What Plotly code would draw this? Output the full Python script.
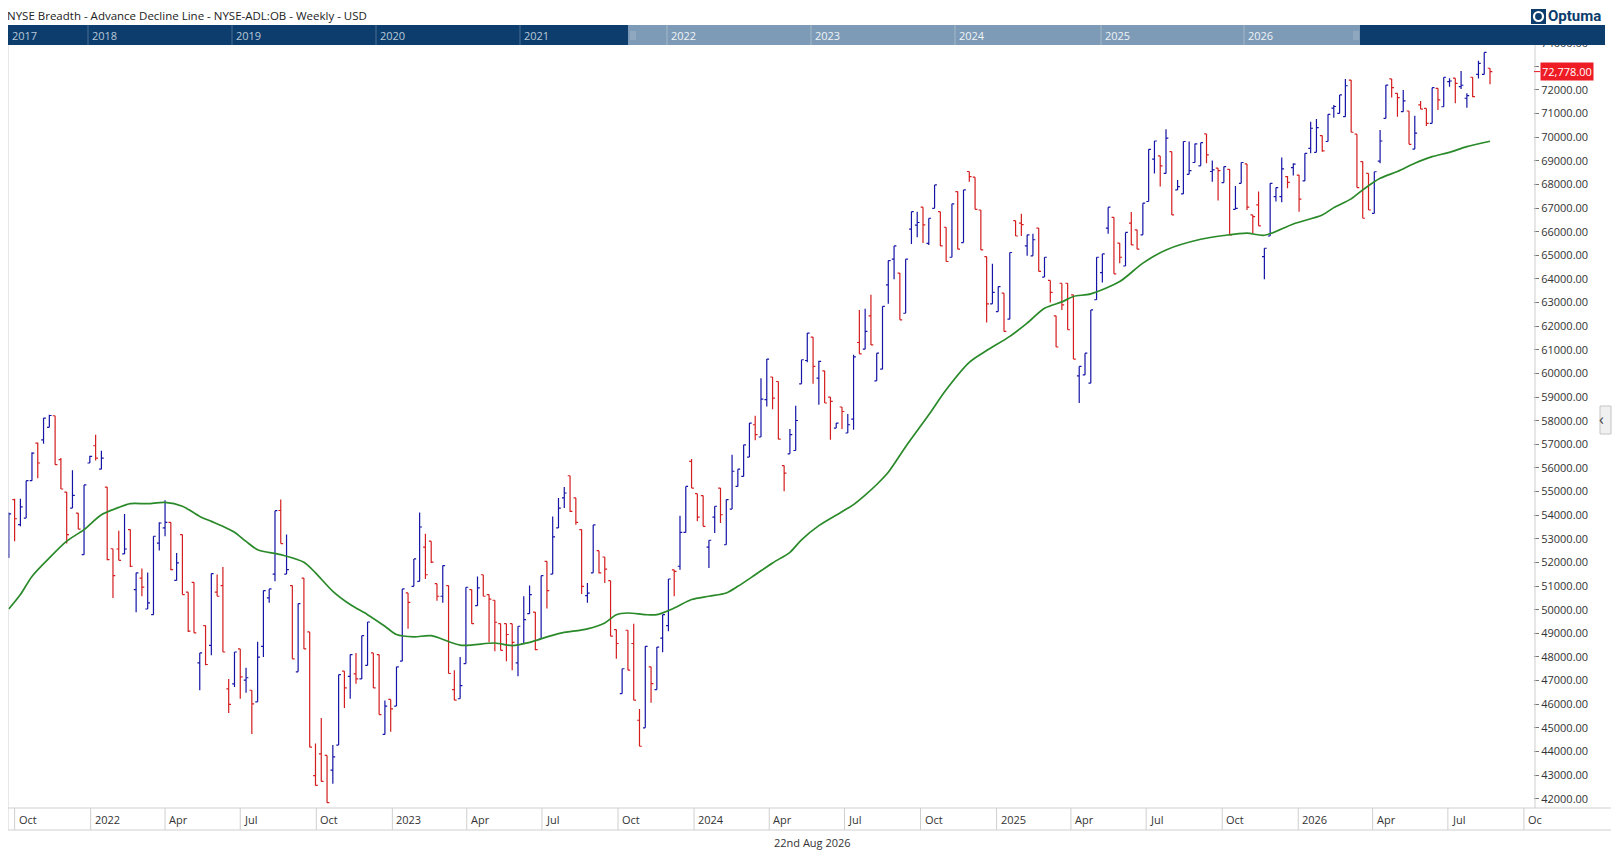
import pandas as pd
import plotly.graph_objects as go

# --- DATA (weekly OHLC, first bar = week ending 24 Sep 2021) ---
FIRST_WEEK = "2021-09-24"

OPEN = [52330, 54660, 53600, 53880, 55460, 57050, 57190, 57720, 58210, 56350,
        54980, 54300, 54090, 52330, 56210, 56940, 55950, 55190, 52580, 52570,
        52360, 53390, 50850, 51340, 50030, 49790, 52820, 53460, 53700, 51240,
        53180, 50740, 51160, 47750, 49330, 48490, 50740, 51020, 46650, 46860,
        48340, 47020, 46590, 46100, 48450, 50500, 51510, 54200, 51510, 51020,
        47370, 51340, 49060, 42980, 43900, 43830, 43210, 44270, 47400, 47180,
        47280, 47070, 47640, 48170, 48100, 44720, 46200, 45920, 47820, 50710,
        50990, 51200, 52650, 52900, 51100, 50570, 51020, 46620, 46230, 47720,
        50850, 50170, 51480, 50640, 50400, 49410, 49410, 49410, 47750, 48570,
        49830, 49900, 48760, 52050, 51510, 53460, 54730, 55670, 54730, 53390,
        50600, 51560, 52500, 52230, 51230, 49160, 46450, 49130, 48570, 45320,
        45000, 47580, 46620, 48800, 49330, 51690, 51840, 53270, 56280, 54910,
        54830, 52650, 53920, 55150, 52750, 54260, 55220, 55640, 56460, 57830,
        57310, 58890, 59850, 59660, 56100, 56600, 56740, 59560, 60550, 61540,
        59800, 60110, 59000, 57690, 58580, 57480, 58070, 61310, 61030, 62440,
        59690, 60180, 63750, 64840, 64250, 62550, 66110, 66280, 67040, 65510,
        66990, 66850, 66190, 64920, 67700, 65540, 68550, 68310, 66920, 64950,
        62950, 62620, 63400, 62300, 66470, 66360, 65400, 64980, 66150, 64080,
        63940, 62440, 63820, 63820, 63330, 59900, 59940, 59590, 63120, 64270,
        66150, 66610, 65520, 64550, 66360, 66080, 65870, 67280, 69070, 69210,
        68470, 69390, 67770, 67600, 68430, 68930, 68790, 70140, 68550, 68690,
        68080, 68640, 66950, 68050, 68870, 66710, 67140, 64950, 65820, 67490,
        67490, 68330, 68710, 68400, 68150, 69530, 69360, 70070, 69820, 71230,
        71010, 70870, 72420, 70130, 68970, 68470, 66780, 68990, 70800, 72470,
        71860, 71080, 71110, 69500, 71370, 71220, 70590, 72070, 71290, 72350,
        72500, 72140, 71650, 72540, 72660, 72660, 72920]

HIGH = [54120, 54700, 54700, 55460, 56660, 57080, 58110, 58250, 58210, 56420,
        54980, 55900, 54090, 55280, 56520, 57410, 56730, 55190, 52580, 53340,
        54050, 53390, 51560, 51740, 51580, 53110, 53700, 54630, 53700, 52400,
        53180, 50740, 51160, 48170, 49330, 51530, 51490, 51810, 47070, 48210,
        48340, 47540, 46590, 48640, 50810, 50880, 54190, 54660, 53180, 51020,
        50260, 51340, 49060, 44340, 45420, 43830, 44270, 47250, 47400, 48100,
        48170, 48900, 49480, 48170, 48100, 46160, 46200, 47580, 50880, 50710,
        52150, 54120, 53220, 52900, 51100, 51870, 51020, 47440, 48000, 50950,
        50850, 51410, 51480, 50640, 50400, 49410, 49410, 49410, 49300, 50570,
        51020, 49900, 51440, 52050, 53950, 54730, 55190, 55670, 54730, 53390,
        51130, 53590, 52500, 52230, 51230, 49160, 47500, 49130, 49410, 45800,
        48450, 47580, 48420, 49790, 51300, 51690, 53980, 55220, 56380, 54910,
        54830, 52940, 54380, 55150, 54660, 56560, 55950, 56980, 57900, 58210,
        59800, 60610, 59850, 59660, 56100, 57650, 58630, 60580, 61710, 61540,
        60540, 60110, 59000, 57900, 58580, 58280, 60790, 62690, 62740, 63330,
        60860, 62840, 64780, 65400, 64250, 64840, 66850, 66850, 67040, 66570,
        67980, 66850, 66190, 67180, 67700, 67770, 68550, 68310, 66920, 64950,
        64640, 63680, 63400, 65120, 66470, 66760, 65870, 65910, 66150, 64920,
        63940, 62440, 63820, 63820, 63330, 60300, 60860, 62690, 64920, 65060,
        67040, 66610, 65520, 65970, 66830, 66080, 67210, 69490, 69840, 69210,
        70340, 69390, 68190, 69820, 69820, 69740, 69770, 70140, 69010, 68690,
        68760, 68640, 67940, 68930, 68870, 66710, 67700, 65300, 68050, 67870,
        69140, 68360, 68900, 68400, 69320, 70660, 70770, 70070, 70970, 71360,
        71790, 72470, 72420, 70130, 68970, 68470, 68540, 70310, 72210, 72470,
        71860, 72000, 71110, 70910, 71530, 71220, 72100, 72070, 72540, 72500,
        72500, 72800, 71860, 72540, 73240, 73590, 72920]

LOW = [52190, 52900, 53530, 53880, 55460, 55560, 57020, 57720, 56140, 55110,
       52800, 54300, 53410, 52330, 56210, 56320, 55950, 52090, 50500, 52090,
       52360, 51810, 49890, 50570, 50030, 49790, 52510, 53110, 51670, 51240,
       50640, 49060, 49020, 46590, 47650, 48070, 50570, 48210, 45630, 46730,
       46230, 46480, 44740, 46100, 48000, 50290, 51200, 52800, 51510, 47920,
       47370, 48340, 44180, 42560, 42730, 41830, 42630, 44270, 45840, 46230,
       46870, 47070, 47640, 46690, 45560, 44720, 44830, 45920, 47820, 49190,
       50990, 51200, 51300, 51980, 50380, 50290, 47300, 46170, 46230, 47720,
       49410, 50170, 50570, 48620, 48240, 48280, 47820, 47440, 47180, 48570,
       49830, 48280, 48760, 50050, 51510, 53460, 54300, 54140, 53600, 50670,
       50290, 51560, 51530, 51130, 48880, 47920, 46450, 47440, 46170, 44220,
       45000, 46060, 46620, 48200, 49090, 50570, 51690, 53270, 55150, 53740,
       53530, 51770, 53250, 53670, 52750, 54260, 55220, 55640, 56460, 57170,
       57310, 58600, 58490, 57220, 55010, 56600, 56740, 59560, 60470, 59560,
       58680, 58750, 57190, 57690, 57650, 57480, 57620, 60830, 61030, 61210,
       59690, 60180, 62950, 63990, 62270, 62550, 65480, 65770, 65520, 65440,
       66990, 65400, 64740, 64920, 65260, 65540, 68120, 66950, 65230, 62160,
       62950, 62620, 61780, 62300, 65820, 65820, 64980, 64980, 64320, 64080,
       63000, 61120, 62690, 61850, 60610, 58750, 59940, 59590, 63120, 63850,
       65910, 64220, 64670, 64550, 65440, 65260, 65870, 67280, 68470, 67910,
       68470, 66710, 67770, 67600, 68430, 68930, 68790, 68900, 68120, 67320,
       68080, 65870, 66950, 68050, 66920, 65940, 66250, 63990, 65820, 67280,
       67250, 67840, 68380, 66850, 68150, 69320, 69360, 69390, 69820, 70830,
       71010, 70870, 70210, 67870, 66570, 66920, 66780, 68900, 70800, 71680,
       70870, 71080, 69700, 69500, 71190, 70480, 70590, 71150, 71290, 72140,
       71440, 72040, 71250, 71690, 72490, 72660, 72240]

CLOSE = [54060, 53850, 54350, 55460, 56630, 56210, 58110, 58220, 56140, 55110,
         53180, 54840, 53410, 55280, 56490, 56420, 56420, 52120, 51440, 52090,
         52570, 51840, 51560, 50960, 50290, 53110, 53670, 53700, 51700, 51980,
         50640, 49090, 49020, 48170, 47680, 51530, 50570, 48210, 45990, 48210,
         47160, 47120, 46010, 47990, 50810, 50880, 54190, 52800, 51700, 47920,
         50260, 48340, 44180, 42560, 42730, 41830, 43770, 47250, 46690, 48100,
         47070, 48900, 49480, 46690, 45560, 45920, 45800, 47580, 50880, 50310,
         52150, 53500, 51480, 52010, 50570, 51870, 47300, 46170, 46790, 50950,
         49410, 50920, 50570, 50450, 49470, 48280, 48950, 48620, 49300, 49580,
         50640, 48310, 51440, 50810, 53080, 54300, 54940, 54160, 53700, 50990,
         50700, 53590, 51560, 51720, 48880, 48570, 47500, 47440, 46170, 44220,
         48450, 46870, 48420, 49790, 51300, 51620, 53270, 55220, 55150, 53920,
         53530, 52940, 54380, 54020, 54660, 55860, 55950, 56980, 57900, 57410,
         58910, 60610, 58960, 57220, 55780, 57410, 58010, 60580, 61710, 60300,
         60510, 58750, 58820, 57900, 58390, 57830, 60700, 60830, 61780, 61210,
         60860, 62840, 64780, 65400, 62270, 64840, 66850, 66390, 66290, 66570,
         67980, 65400, 64740, 67180, 65260, 67770, 68330, 66950, 65230, 62950,
         63430, 63680, 61780, 65120, 65820, 66300, 65870, 65660, 64320, 64920,
         63430, 61120, 62900, 61850, 60610, 60300, 60860, 62690, 64920, 65060,
         67040, 64220, 64920, 65970, 65440, 65260, 67210, 69490, 69840, 68790,
         69960, 66710, 67910, 69820, 68590, 69720, 69770, 69250, 68620, 68590,
         68760, 65870, 66990, 68930, 67040, 66640, 66250, 65300, 68050, 67870,
         68660, 68090, 68860, 67380, 69320, 70380, 70410, 69420, 70970, 71300,
         71790, 72180, 70210, 67870, 66570, 66920, 68540, 69840, 72210, 72100,
         71680, 71540, 69700, 70170, 71190, 70590, 72100, 71580, 72540, 72380,
         72280, 72200, 71760, 71720, 73130, 73590, 72778]

# green moving average, read at selected weeks (week number from first bar)
MA_WEEK = [0, 2, 4, 7, 10, 13, 16, 19, 21, 24, 27, 30, 33, 35, 37, 39, 41, 43, 47,
           51, 53, 56, 59, 62, 65, 67, 70, 73, 78, 84, 87, 90, 95, 100, 103, 105,
           107, 110, 112, 115, 118, 121, 124, 126, 129, 132, 135, 137, 140, 144,
           146, 148, 150, 152, 155, 159, 162, 166, 169, 173, 176, 179, 182, 184, 187,
           192, 196, 200, 206, 210, 214, 217, 222, 227, 229, 232, 234, 237, 240,
           243, 246, 249, 252, 256]
MA_VALUE = [50030, 50640, 51410, 52190, 52900, 53390, 54020, 54330, 54490, 54490,
            54540, 54380, 53950, 53740, 53530, 53280, 52890, 52540, 52330, 52010,
            51560, 50780, 50220, 49790, 49300, 48950, 48850, 48900, 48500, 48590,
            48480, 48620, 48990, 49190, 49440, 49790, 49860, 49790, 49790, 50070,
            50430, 50570, 50710, 50990, 51480, 51980, 52430, 52960, 53560, 54150,
            54450, 54850, 55300, 55820, 56900, 58250, 59310, 60470, 60970, 61570,
            62130, 62760, 63030, 63260, 63370, 63890, 64670, 65230, 65680, 65840,
            65940, 65850, 66330, 66710, 67020, 67390, 67770, 68260, 68550, 68900,
            69180, 69360, 69600, 69830]

LAST_LABEL = "72,778.00"

# axis labels
X_LABEL_DATES = ["2021-10-01", "2022-01-01", "2022-04-01", "2022-07-01", "2022-10-01",
                 "2023-01-01", "2023-04-01", "2023-07-01", "2023-10-01", "2024-01-01",
                 "2024-04-01", "2024-07-01", "2024-10-01", "2025-01-01", "2025-04-01",
                 "2025-07-01", "2025-10-01", "2026-01-01", "2026-04-01", "2026-07-01",
                 "2026-10-01"]
X_LABEL_TEXT = ["Oct", "2022", "Apr", "Jul", "Oct", "2023", "Apr", "Jul", "Oct", "2024",
                "Apr", "Jul", "Oct", "2025", "Apr", "Jul", "Oct", "2026", "Apr", "Jul", "Oc"]
Y_TICKS = list(range(42000, 75000, 1000))
NAV_YEARS = ["2017", "2018", "2019", "2020", "2021", "2022", "2023", "2024", "2025", "2026"]
NAV_YEAR_X = [5, 88, 232, 376, 520, 667, 811, 955, 1101, 1244]   # page px

# --- LAYOUT HELPERS ---
# the page body has an 8px margin, so the figure starts at page (8, 8)
OFF = 8
W, H = 1604, 848
L, R, T, B = 8, 1533, 25, 808          # plot area in page pixels


def px(x):
    return (x - L) / (R - L)


def py(y):
    return (B - y) / (B - T)


dates = pd.date_range(FIRST_WEEK, periods=len(CLOSE), freq="7D")
ma_dates = dates[MA_WEEK]

fig = go.Figure()
fig.add_trace(go.Ohlc(
    x=dates, open=OPEN, high=HIGH, low=LOW, close=CLOSE,
    increasing_line_color="#1414a6", decreasing_line_color="#d41e1e",
    line_width=1.2, tickwidth=0.4, showlegend=False, hoverinfo="skip",
))
fig.add_trace(go.Scatter(
    x=ma_dates, y=MA_VALUE, mode="lines",
    line=dict(color="#2a8a2a", width=1.7, shape="spline", smoothing=0.8),
    showlegend=False, hoverinfo="skip",
))

shapes = []
ann = []
GRID = "#cfcfcf"

# frame lines
shapes.append(dict(type="line", xref="paper", yref="paper", x0=px(8), x1=px(8),
                   y0=py(45), y1=py(830), line=dict(color=GRID, width=1)))
shapes.append(dict(type="line", xref="paper", yref="paper", x0=px(1535), x1=px(1535),
                   y0=py(45), y1=py(808), line=dict(color=GRID, width=1)))
for yy in (808, 830):
    shapes.append(dict(type="line", xref="paper", yref="paper", x0=px(8), x1=px(1611),
                       y0=py(yy), y1=py(yy), line=dict(color=GRID, width=1)))

# time axis row
for d, t in zip(X_LABEL_DATES, X_LABEL_TEXT):
    shapes.append(dict(type="line", xref="x", yref="paper", x0=d, x1=d,
                       y0=py(808), y1=py(830), line=dict(color=GRID, width=1)))
    ann.append(dict(x=d, y=py(819), xref="x", yref="paper", text=t, showarrow=False,
                    xanchor="left", yanchor="middle", xshift=2,
                    font=dict(size=11, color="#333333")))

# navigator strip
shapes.append(dict(type="rect", xref="paper", yref="paper", x0=px(8), x1=px(1605),
                   y0=py(45), y1=py(25), fillcolor="#0c3d6d", line_width=0, layer="above"))
shapes.append(dict(type="rect", xref="paper", yref="paper", x0=px(628), x1=px(1360),
                   y0=py(45), y1=py(25), fillcolor="#7d9bb6", line_width=0, layer="above"))
for xg in (631, 1354):
    for dx in (0, 2, 4):
        shapes.append(dict(type="line", xref="paper", yref="paper", x0=px(xg + dx),
                           x1=px(xg + dx), y0=py(40), y1=py(31),
                           line=dict(color="#a9bccd", width=0.8), layer="above"))
for yr, xs in zip(NAV_YEARS, NAV_YEAR_X):
    light = 628 <= xs <= 1360
    if xs > 10:
        shapes.append(dict(type="line", xref="paper", yref="paper", x0=px(xs), x1=px(xs),
                           y0=py(45), y1=py(25), layer="above",
                           line=dict(color="#a4b8cb" if light else "#4c7098", width=1)))
    ann.append(dict(x=px(max(xs, 8) + 2), y=py(35), xref="paper", yref="paper", text=yr,
                    showarrow=False, xanchor="left", yanchor="middle",
                    font=dict(size=11, color="#eef3f8" if light else "#b9c9da")))

# title
ann.append(dict(x=px(8), y=py(16), xref="paper", yref="paper",
                text="NYSE Breadth - Advance Decline Line - NYSE-ADL:OB - Weekly - USD",
                showarrow=False, xanchor="left", yanchor="middle", xshift=-3,
                font=dict(size=11.5, color="#222222")))

# logo
shapes.append(dict(type="rect", xref="paper", yref="paper", x0=px(1531), x1=px(1546),
                   y0=py(24), y1=py(9), fillcolor="#0c3d6d", line_width=0, layer="above"))
shapes.append(dict(type="circle", xref="paper", yref="paper", x0=px(1534), x1=px(1543),
                   y0=py(21), y1=py(12), fillcolor="rgba(0,0,0,0)",
                   line=dict(color="white", width=2.2), layer="above"))
ann.append(dict(x=px(1546), y=py(16.5), xref="paper", yref="paper", text="<b>Optuma</b>",
                showarrow=False, xanchor="left", yanchor="middle",
                font=dict(size=15, color="#0c3d6d", family="Roboto")))

# last price tag
shapes.append(dict(type="line", xref="paper", yref="y", x0=px(1534), x1=px(1540),
                   y0=CLOSE[-1], y1=CLOSE[-1], line=dict(color="#e8141c", width=1)))
ann.append(dict(x=px(1540), y=CLOSE[-1], xref="paper", yref="y", text=LAST_LABEL,
                showarrow=False, xanchor="left", yanchor="middle", bgcolor="#ee1c24",
                borderpad=1, font=dict(size=11, color="white")))

# side collapse tab
shapes.append(dict(type="rect", xref="paper", yref="paper", x0=px(1600), x1=px(1611),
                   y0=py(434), y1=py(406), fillcolor="#f0f0f0",
                   line=dict(color="#c4c4c4", width=1)))
ann.append(dict(x=px(1605.5), y=py(419), xref="paper", yref="paper", text="‹",
                showarrow=False, font=dict(size=16, color="#444444")))

# footer date
ann.append(dict(x=px(812), y=py(842), xref="paper", yref="paper", text="22nd Aug 2026",
                showarrow=False, xanchor="center", yanchor="middle",
                font=dict(size=11, color="#333333")))

# the 73000 label sits under the last-price tag in the original
y_text = ["" if v == 73000 else f"{v}.00" for v in Y_TICKS]

fig.update_layout(
    width=W, height=H,
    margin=dict(l=L - OFF, r=W + OFF - R, t=T - OFF, b=H + OFF - B),
    paper_bgcolor="white", plot_bgcolor="white",
    font=dict(family="Open Sans", size=11, color="#333333"),
    hovermode=False,
    shapes=shapes, annotations=ann,
    xaxis=dict(range=["2021-09-23", "2026-10-12"], showticklabels=False, showgrid=False,
               zeroline=False, showline=False, ticks="", rangeslider=dict(visible=False)),
    yaxis=dict(side="right", range=[41606, 74751], tickvals=Y_TICKS,
               ticktext=y_text, ticks="outside", ticklen=5,
               tickcolor="#777777", showgrid=False, zeroline=False, showline=False,
               tickfont=dict(size=11, color="#333333")),
)

fig.write_html("out.html")
